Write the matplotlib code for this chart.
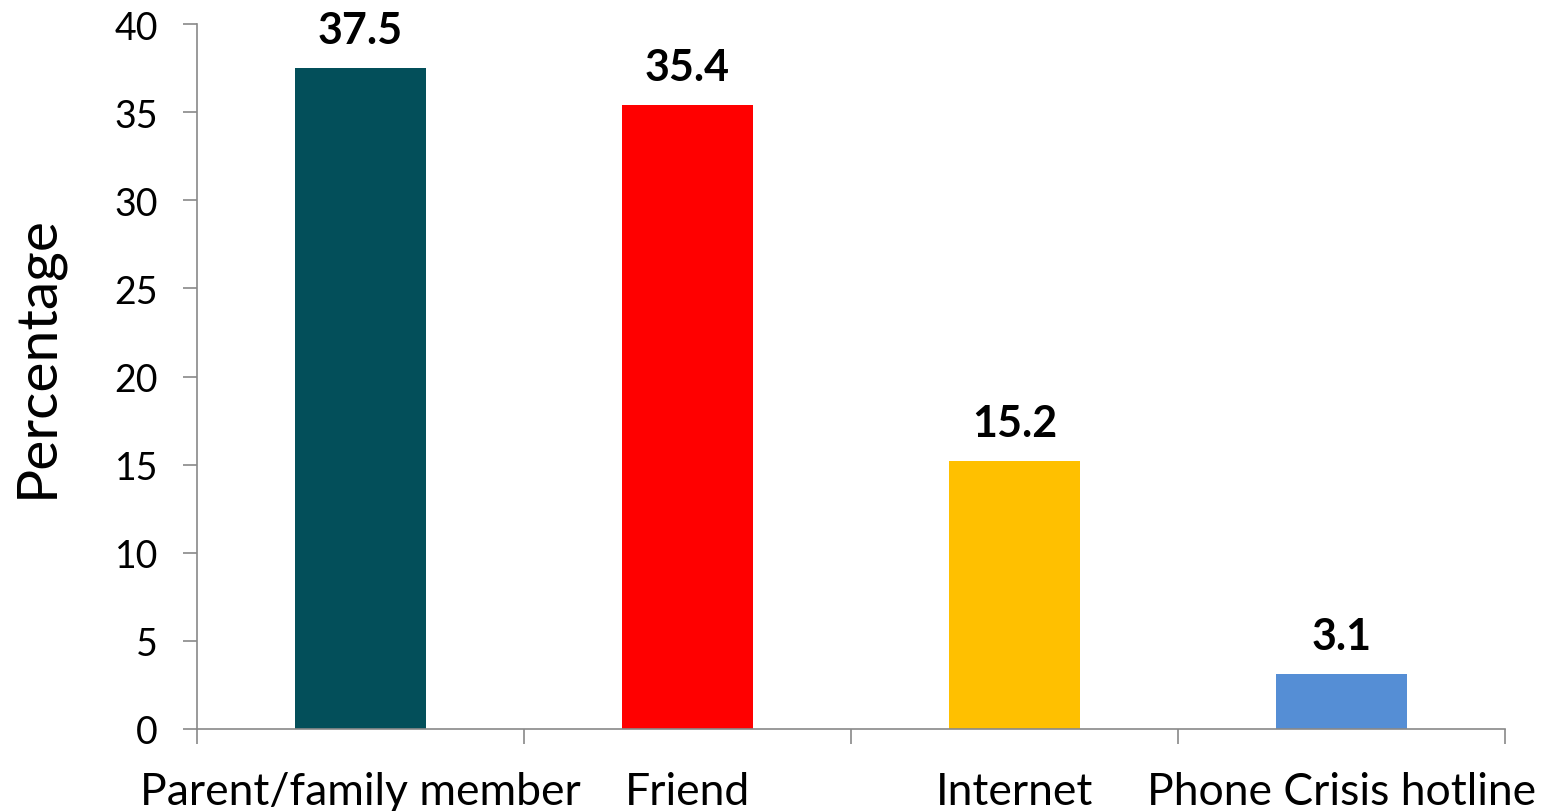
import matplotlib.pyplot as plt
import numpy as np

categories = ["Parent/family member", "Friend", "Internet", "Phone Crisis hotline"]
values = [37.5, 35.4, 15.2, 3.1]
colors = ["#034f5a", "#ff0000", "#ffc000", "#558ed5"]
y_ticks = [0, 5, 10, 15, 20, 25, 30, 35, 40]

plt.rcParams['font.family'] = ['Lato', 'DejaVu Sans']

fig = plt.figure(figsize=(15.45, 8.12), dpi=100)
ax = fig.add_axes([197 / 1545, 1 - 730 / 812, (1505 - 197) / 1545, (730 - 25) / 812])

x = np.arange(len(categories))
bars = ax.bar(x, values, width=0.4, color=colors, zorder=2)

for xi, v in zip(x, values):
    ax.annotate(f"{v}", (xi, v), xytext=(0, 13), textcoords="offset points",
                ha="center", va="bottom", fontsize=31, fontweight="bold")

ax.set_xlim(-0.5, len(categories) - 0.5)
ax.set_ylim(0, 40)
ax.set_yticks(y_ticks)
ax.set_yticklabels([str(t) for t in y_ticks], fontsize=27)

ax.set_xticks(np.arange(-0.5, len(categories), 1.0))
ax.set_xticklabels([])
ax.set_xticks(x, minor=True)
ax.set_xticklabels(categories, minor=True, fontsize=32)
ax.tick_params(axis="x", which="minor", length=0, pad=30)
ax.tick_params(axis="x", which="major", length=11, width=1.2, color="#898989")
ax.tick_params(axis="y", length=10, width=1.2, color="#898989", pad=18)

for s in ["top", "right"]:
    ax.spines[s].set_visible(False)
for s in ["left", "bottom"]:
    ax.spines[s].set_color("#898989")
    ax.spines[s].set_linewidth(1.2)

ax.set_ylabel("Percentage", fontsize=41)
ax.yaxis.set_label_coords(-0.103, 0.53)

fig.savefig("out.png", dpi=100)
